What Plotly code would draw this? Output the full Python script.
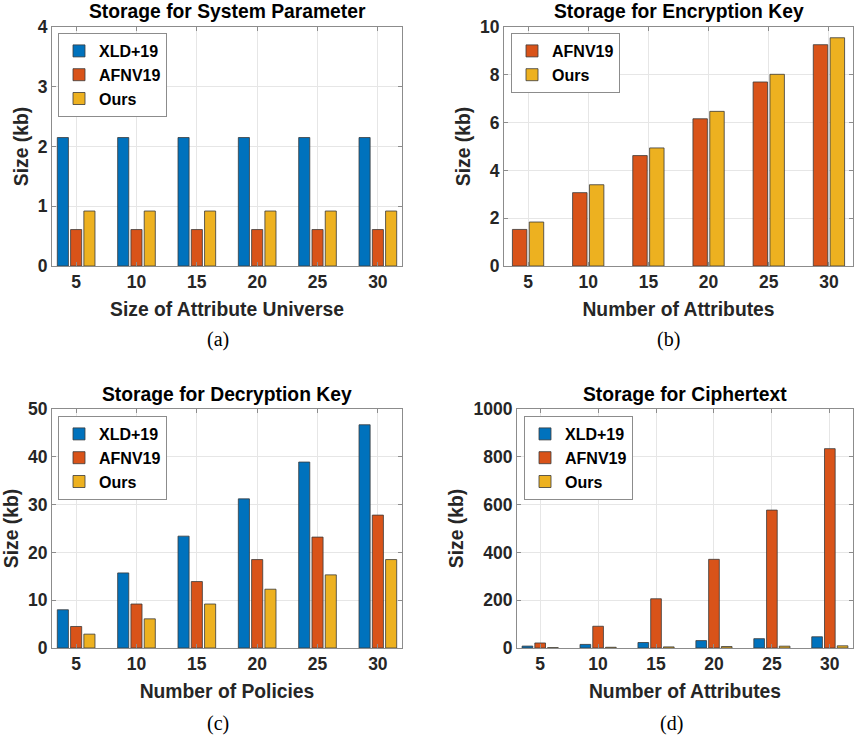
import plotly.graph_objects as go

# ---------------- data ----------------
x_vals = [5, 10, 15, 20, 25, 30]

# (a) Storage for System Parameter
a_xld = [2.15, 2.15, 2.15, 2.15, 2.15, 2.15]
a_afnv = [0.61, 0.61, 0.61, 0.61, 0.61, 0.61]
a_ours = [0.92, 0.92, 0.92, 0.92, 0.92, 0.92]

# (b) Storage for Encryption Key
b_afnv = [1.53, 3.07, 4.62, 6.16, 7.70, 9.26]
b_ours = [1.84, 3.40, 4.94, 6.47, 8.02, 9.55]

# (c) Storage for Decryption Key
c_xld = [8.0, 15.7, 23.4, 31.2, 38.9, 46.7]
c_afnv = [4.5, 9.2, 13.9, 18.5, 23.2, 27.8]
c_ours = [2.9, 6.1, 9.2, 12.3, 15.3, 18.5]

# (d) Storage for Ciphertext
d_xld = [8, 15, 23, 31, 39, 47]
d_afnv = [21, 91, 206, 371, 577, 834]
d_ours = [1.5, 3.0, 4.6, 6.2, 7.7, 9.2]

titles = ["Storage for System Parameter", "Storage for Encryption Key",
          "Storage for Decryption Key", "Storage for Ciphertext"]
xtitles = ["Size of Attribute Universe", "Number of Attributes",
           "Number of Policies", "Number of Attributes"]
captions = ["(a)", "(b)", "(c)", "(d)"]

# ---------------- style ----------------
C_BLUE = "#0072BD"
C_RED = "#D95319"
C_YEL = "#EDB120"
EDGE = "#3a3a3a"
FONT = "Liberation Sans, Arial, Helvetica, sans-serif"
W, H = 854, 736

def px_x(p):
    return p / W

def px_y(p):
    return 1 - p / H

# pixel boxes (left, right, top, bottom)
boxes = [
    (52, 402, 27, 266),
    (504, 853, 27, 266),
    (52, 402, 409, 648),
    (517, 853, 409, 648),
]

fig = go.Figure()

def add_bar(name, y, color, xa, ya, legend, offset, width):
    fig.add_trace(go.Bar(
        x=x_vals, y=y, name=name, marker=dict(color=color, line=dict(color=EDGE, width=0.8)),
        offset=offset, width=width, xaxis=xa, yaxis=ya, legend=legend,
    ))

W3 = 0.92
OFF3 = [-1.56, -0.46, 0.64]
W2 = 1.2
OFF2 = [-1.3, 0.1]

add_bar("XLD+19", a_xld, C_BLUE, "x", "y", "legend", OFF3[0], W3)
add_bar("AFNV19", a_afnv, C_RED, "x", "y", "legend", OFF3[1], W3)
add_bar("Ours", a_ours, C_YEL, "x", "y", "legend", OFF3[2], W3)

add_bar("AFNV19", b_afnv, C_RED, "x2", "y2", "legend2", OFF2[0], W2)
add_bar("Ours", b_ours, C_YEL, "x2", "y2", "legend2", OFF2[1], W2)

add_bar("XLD+19", c_xld, C_BLUE, "x3", "y3", "legend3", OFF3[0], W3)
add_bar("AFNV19", c_afnv, C_RED, "x3", "y3", "legend3", OFF3[1], W3)
add_bar("Ours", c_ours, C_YEL, "x3", "y3", "legend3", OFF3[2], W3)

add_bar("XLD+19", d_xld, C_BLUE, "x4", "y4", "legend4", OFF3[0], W3)
add_bar("AFNV19", d_afnv, C_RED, "x4", "y4", "legend4", OFF3[1], W3)
add_bar("Ours", d_ours, C_YEL, "x4", "y4", "legend4", OFF3[2], W3)

yranges = [(0, 4, 1), (0, 10, 2), (0, 50, 10), (0, 1000, 200)]

layout = dict(
    width=W, height=H, margin=dict(l=0, r=0, t=0, b=0),
    paper_bgcolor="white", plot_bgcolor="white",
    barmode="overlay", showlegend=True,
    font=dict(family=FONT, size=17, color="#262626"),
)

tickfont = dict(family=FONT, size=17.5, color="#262626", weight="bold")
axtitlefont = dict(family=FONT, size=19.3, color="#262626", weight="bold")

annotations = []
for i, (l, r, t, b) in enumerate(boxes):
    sfx = "" if i == 0 else str(i + 1)
    ymin, ymax, dt = yranges[i]
    layout["xaxis" + sfx] = dict(
        domain=[px_x(l), px_x(r)], anchor="y" + sfx, range=[3, 32],
        tickmode="array", tickvals=x_vals, ticktext=[str(v) for v in x_vals],
        showgrid=True, gridcolor="#e6e6e6", gridwidth=1,
        showline=True, linecolor="#8c8c8c", linewidth=1, mirror="ticks",
        ticks="inside", ticklen=4, tickcolor="#8c8c8c",
        tickfont=tickfont, zeroline=False,
        title=dict(text=xtitles[i], font=axtitlefont, standoff=11),
        automargin=False,
    )
    layout["yaxis" + sfx] = dict(
        domain=[px_y(b), px_y(t)], anchor="x" + sfx, range=[ymin, ymax], dtick=dt,
        showgrid=True, gridcolor="#e6e6e6", gridwidth=1,
        showline=True, linecolor="#8c8c8c", linewidth=1, mirror="ticks",
        ticks="inside", ticklen=4, tickcolor="#8c8c8c",
        tickfont=tickfont, zeroline=False,
        title=dict(text="Size (kb)", font=axtitlefont, standoff=4),
        automargin=False,
    )
    annotations.append(dict(
        text="<b>" + titles[i] + "</b>", x=px_x((l + r) / 2), y=px_y(t - 15),
        xref="paper", yref="paper", xanchor="center", yanchor="middle",
        showarrow=False, font=dict(family=FONT, size=19.3, color="black"),
    ))

capt_pos = [(218, 340), (668, 340), (218, 723), (671, 723)]
for i, (cx, cy) in enumerate(capt_pos):
    annotations.append(dict(
        text=captions[i], x=px_x(cx), y=px_y(cy), xref="paper", yref="paper",
        xanchor="center", yanchor="middle", showarrow=False,
        font=dict(family="Liberation Serif, Times New Roman, serif", size=20, color="black"),
    ))

layout["annotations"] = annotations

leg_pos = [(58, 33), (511, 33), (58, 416), (524, 416)]
for i, (lx, ly) in enumerate(leg_pos):
    key = "legend" if i == 0 else "legend" + str(i + 1)
    layout[key] = dict(
        x=px_x(lx), y=px_y(ly), xanchor="left", yanchor="top",
        xref="paper", yref="paper",
        bgcolor="white", bordercolor="#8c8c8c", borderwidth=1,
        font=dict(family=FONT, size=16, color="black", weight="bold"),
        tracegroupgap=0, itemwidth=30, traceorder="normal",
    )

fig.update_layout(**layout)
fig.write_html(
    "out.html",
    config={"displayModeBar": False},
    post_script="document.body.style.margin='0';document.body.style.overflow='hidden';",
)
